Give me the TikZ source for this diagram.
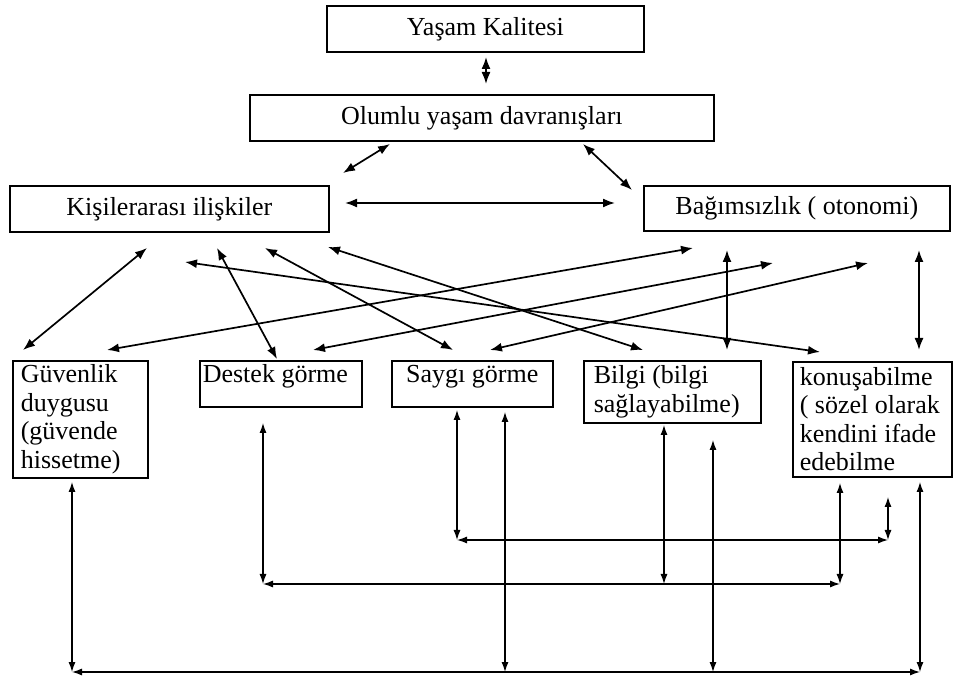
\documentclass[tikz,border=0pt]{standalone}
\usepackage{fontspec}
\setmainfont{Liberation Serif}
\usetikzlibrary{arrows.meta}

\begin{document}
\begin{tikzpicture}
            [x = 1pt, y = -1pt,
             box/.style = {draw, line width = 1.6pt, anchor = north west, inner sep = 0pt,
                           font = \fontsize{26}{28.5}\selectfont},
             lowbox/.style = {box, align = flush left, inner xsep = 8pt, inner ysep = 3pt},
             link/.style = {{Latex[length=12pt,width=9pt]}-{Latex[length=12pt,width=9pt]}, line width = 1.7pt},
             bus/.style = {{Latex[length=10pt,width=7pt]}-{Latex[length=10pt,width=7pt]}, line width = 1.2pt}]

            \fill[white] (0,0) rectangle (954,684);
            \useasboundingbox (0,0) rectangle (954,684);

            \node[box, minimum width = 317, minimum height = 46] (kalite) at (326,5) {Yaşam Kalitesi};
            \node[box, minimum width = 464, minimum height = 46] (olumlu) at (249,94) {Olumlu yaşam davranışları};
            \node[box, minimum width = 319, minimum height = 46] (kisiler) at (9,185) {Kişilerarası ilişkiler};
            \node[box, minimum width = 306, minimum height = 45] (bagimsiz) at (643,185) {Bağımsızlık ( otonomi)};

            \node[lowbox, text width = 119, minimum width = 135, minimum height = 117] (guven) at (12,360)
                {Güvenlik\\duygusu\\(güvende\\hissetme)};
            \node[lowbox, inner xsep = 3pt, text width = 156, text depth = 20pt, minimum height = 46] (destek) at (199,360)
                {Destek görme};
            \node[lowbox, align = flush center, text width = 145, text depth = 20pt, minimum height = 46] (saygi) at (391,360)
                {Saygı görme};
            \node[lowbox, inner xsep = 10pt, text width = 157, minimum height = 62] (bilgi) at (583,360)
                {Bilgi (bilgi\\sağlayabilme)};
            \node[lowbox, inner xsep = 7pt, text width = 145, minimum height = 115] (konusma) at (792,361)
                {konuşabilme\\( sözel olarak\\kendini ifade\\edebilme};

            \coordinate (kalite-a) at (486,57);
            \coordinate (olumlu-a) at (486,84);
            \coordinate (olumlu-b) at (390,144);
            \coordinate (kisiler-b) at (343,173);
            \coordinate (olumlu-c) at (583,144);
            \coordinate (bagimsiz-c) at (632,190);
            \coordinate (kisiler-d) at (345,203);
            \coordinate (bagimsiz-d) at (615,203);

            \coordinate (k1) at (147,248);
            \coordinate (k2) at (217,248);
            \coordinate (k3) at (265,248);
            \coordinate (k4) at (328,247);
            \coordinate (k5) at (185,262);
            \coordinate (o1) at (693,248);
            \coordinate (o2) at (773,263);
            \coordinate (o3) at (868,263);
            \coordinate (o4) at (727,250);
            \coordinate (o5) at (919,250);

            \coordinate (g1) at (23,350);
            \coordinate (g2) at (107,350);
            \coordinate (d1) at (277,359);
            \coordinate (d2) at (313,350);
            \coordinate (s1) at (453,350);
            \coordinate (s2) at (490,350);
            \coordinate (b1) at (643,350);
            \coordinate (b2) at (727,350);
            \coordinate (n1) at (820,352);
            \coordinate (n2) at (919,350);

            \coordinate (g3) at (72,482);
            \coordinate (g4) at (72,672);
            \coordinate (d3) at (263,423);
            \coordinate (d4) at (263,584);
            \coordinate (s3) at (505,412);
            \coordinate (s4) at (505,672);
            \coordinate (s5) at (457,410);
            \coordinate (s6) at (457,540);
            \coordinate (b3) at (713,440);
            \coordinate (b4) at (713,672);
            \coordinate (b5) at (664,425);
            \coordinate (b6) at (664,584);
            \coordinate (n3) at (920,482);
            \coordinate (n4) at (920,672);
            \coordinate (n5) at (840,483);
            \coordinate (n6) at (840,584);
            \coordinate (n7) at (888,497);
            \coordinate (n8) at (888,540);

            \draw[link] (kalite-a) to (olumlu-a);
            \draw[link] (olumlu-b) to (kisiler-b);
            \draw[link] (olumlu-c) to (bagimsiz-c);
            \draw[link] (kisiler-d) to (bagimsiz-d);

            \draw[link] (k1) to (g1);
            \draw[link] (k2) to (d1);
            \draw[link] (k3) to (s1);
            \draw[link] (k4) to (b1);
            \draw[link] (k5) to (n1);
            \draw[link] (o1) to (g2);
            \draw[link] (o2) to (d2);
            \draw[link] (o3) to (s2);
            \draw[link] (o4) to (b2);
            \draw[link] (o5) to (n2);

            \draw[bus] (g3) to (g4);
            \draw[bus] (n3) to (n4);
            \draw[bus] (s3) to (s4);
            \draw[bus] (b3) to (b4);
            \draw[bus] (g4) to (n4);

            \draw[bus] (d3) to (d4);
            \draw[bus] (n5) to (n6);
            \draw[bus] (b5) to (b6);
            \draw[bus] (d4) to (n6);

            \draw[bus] (s5) to (s6);
            \draw[bus] (n7) to (n8);
            \draw[bus] (s6) to (n8);

        \end{tikzpicture}
\end{document}
